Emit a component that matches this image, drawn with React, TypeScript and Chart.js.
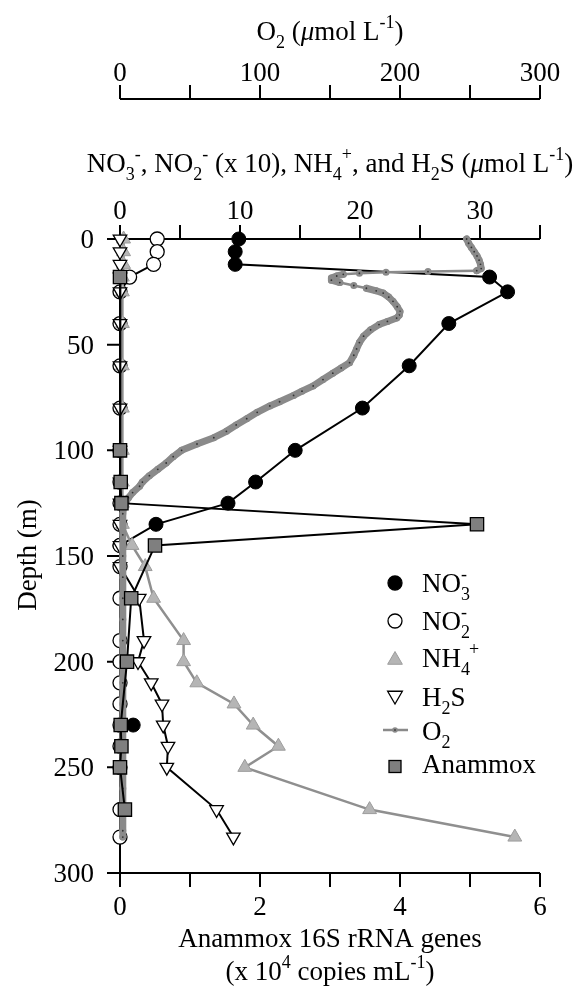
import React, { useEffect, useRef } from 'react';
import { Chart, registerables } from 'chart.js';

Chart.register(...registerables);

// ---- Data -------------------------------------------------------------
// Discrete sampling depths (m) for the nutrient / sulfide profiles
const sampleDepths = [0, 6, 12, 18, 25, 40, 60, 80, 100, 115, 125, 135, 145, 155, 170, 190, 200, 210, 220, 230, 240, 250, 270, 283];
// NO3- (umol/L); null = not determined
const nitrate = [9.9, 9.6, 9.6, 30.8, 32.3, 27.4, 24.1, 20.2, 14.6, 11.3, 9.0, 3.0, 0, null, null, null, null, null, null, 1.1, null, null, null, null];
// NO2- (umol/L x 10)
const nitrite = [3.1, 3.1, 2.8, 0.8, 0, 0, 0, 0, 0, 0, 0, 0, 0, 0, 0, 0, 0, 0, 0, 0, 0, 0, 0, 0];
// NH4+ (umol/L)
const ammonium = [0.3, 0.3, 0.3, 0.2, 0.2, 0.2, 0.2, 0.2, 0.2, 0.2, 0.2, 0.2, 1.0, 2.1, 2.8, 5.3, 5.3, 6.4, 9.5, 11.1, 13.2, 10.4, 20.8, 32.9];
// H2S (umol/L)
const sulfide = [0, 0, 0, 0, 0, 0, 0, 0, 0, 0, 0, 0, 0, 0, 1.6, 2.0, 1.5, 2.6, 3.5, 3.6, 4.0, 3.9, 8.05, 9.45];

// Anammox 16S rRNA gene abundance (x 10^4 copies/mL)
const anammoxDepths = [18, 100, 115, 125, 135, 145, 170, 200, 230, 240, 250, 270];
const anammoxCopies = [0, 0, 0.01, 0.02, 5.1, 0.5, 0.16, 0.1, 0.01, 0.02, 0, 0.07];

// CTD oxygen profile (umol/L)
const oxygenDepths = [
  0, 2, 4, 6, 8, 10, 12, 14, 15, 15.4, 15.7, 16.2, 16.7, 17.5, 18.5, 19.5, 20.6, 22, 23.3, 24.5,
  25.6, 27.5, 29.5, 32, 34.3, 36, 37.4, 39, 40.5, 43, 46, 49, 52, 55, 58.5, 61, 63.5, 66.5, 69.5, 72,
  74, 77, 79, 82, 85, 88, 91, 94, 97, 100, 103, 106, 109, 112, 115, 117, 120, 122.5, 124, 125,
  130, 140, 150, 160, 170, 180, 190, 200, 210, 220, 230, 240, 250, 260, 270, 280, 283,
];
const oxygen = [
  247.6, 249, 251, 253, 255, 256.5, 257.5, 258, 254.8, 220, 190, 171, 159.5, 154.8, 151, 151, 157, 167, 176, 183,
  188, 192, 195, 198, 200, 199.5, 197.6, 191, 185, 179, 174, 171, 169, 167, 164, 158, 152, 145, 138, 130,
  124, 114, 107, 98, 90.5, 83, 76, 67, 55, 44, 38, 33, 27, 21, 16, 14, 9, 6, 4.5, 3,
  2, 2, 2, 2, 2, 2, 2, 2, 2, 2, 2, 2, 2, 2, 2, 2, 2,
];

// Axis ticks
const depthTicks = [0, 50, 100, 150, 200, 250, 300];
const oxygenTicks = [0, 100, 200, 300];
const nitrogenTicks = [0, 10, 20, 30];
const anammoxTicks = [0, 2, 4, 6];

// ---- Text helpers -----------------------------------------------------
const FONT = '"Liberation Serif", "Times New Roman", serif';
const BASE = 27;
const SMALL = 18;
const SUB_DY = 8;
const SUP_DY = -12;

// t: normal run; sub/sup: small run below/above (stacked when both given);
// supDx shifts a stacked superscript to the right
type Piece = { t?: string; sub?: string; sup?: string; it?: boolean; supDx?: number };

function pieceWidth(ctx: CanvasRenderingContext2D, p: Piece) {
  if (p.t !== undefined) {
    ctx.font = `${p.it ? 'italic ' : ''}${BASE}px ${FONT}`;
    return ctx.measureText(p.t).width;
  }
  ctx.font = `${SMALL}px ${FONT}`;
  const a = p.sub ? ctx.measureText(p.sub).width : 0;
  const b = p.sup ? ctx.measureText(p.sup).width + (p.supDx || 0) : 0;
  return Math.max(a, b);
}

function drawRich(ctx: CanvasRenderingContext2D, pieces: Piece[], x: number, y: number, align: 'left' | 'center' | 'right') {
  const widths = pieces.map((p) => pieceWidth(ctx, p));
  const total = widths.reduce((s, w) => s + w, 0);
  let cx = align === 'left' ? x : align === 'center' ? x - total / 2 : x - total;
  ctx.textAlign = 'left';
  ctx.textBaseline = 'alphabetic';
  ctx.fillStyle = '#000';
  pieces.forEach((p, i) => {
    if (p.t !== undefined) {
      ctx.font = `${p.it ? 'italic ' : ''}${BASE}px ${FONT}`;
      ctx.fillText(p.t, cx, y);
    } else {
      ctx.font = `${SMALL}px ${FONT}`;
      if (p.sub) ctx.fillText(p.sub, cx, y + SUB_DY);
      if (p.sup) ctx.fillText(p.sup, cx + (p.supDx || 0), y + SUP_DY);
    }
    cx += widths[i];
  });
}

const oxygenTitle: Piece[] = [{ t: 'O' }, { sub: '2' }, { t: ' (' }, { t: 'μ', it: true }, { t: 'mol L' }, { sup: '-1' }, { t: ')' }];
const nitrogenTitle: Piece[] = [
  { t: 'NO' }, { sub: '3' }, { sup: '-' }, { t: ', NO' }, { sub: '2' }, { sup: '-' }, { t: ' (x 10), NH' }, { sub: '4' }, { sup: '+' },
  { t: ', and H' }, { sub: '2' }, { t: 'S (' }, { t: 'μ', it: true }, { t: 'mol L' }, { sup: '-1' }, { t: ')' },
];
const bottomTitle1: Piece[] = [{ t: 'Anammox 16S rRNA genes' }];
const bottomTitle2: Piece[] = [{ t: '(x 10' }, { sup: '4' }, { t: ' copies mL' }, { sup: '-1' }, { t: ')' }];

const legendItems: { label: Piece[]; marker: string }[] = [
  { label: [{ t: 'NO' }, { sub: '3', sup: '-' }], marker: 'no3' },
  { label: [{ t: 'NO' }, { sub: '2', sup: '-' }], marker: 'no2' },
  { label: [{ t: 'NH' }, { sub: '4', sup: '+', supDx: 8 }], marker: 'nh4' },
  { label: [{ t: 'H' }, { sub: '2' }, { t: 'S' }], marker: 'h2s' },
  { label: [{ t: 'O' }, { sub: '2' }], marker: 'o2' },
  { label: [{ t: 'Anammox' }], marker: 'amx' },
];
const legendMarkerY = [583, 621, 659, 696.5, 730, 766.5];
const legendTextY = [592, 630, 667, 705.5, 740, 773];

const GRAY_O2 = '#8a8a8a';
const GRAY_NH4_FILL = '#b5b5b5';
const GRAY_NH4_LINE = '#8f8f8f';
const GRAY_AMX = '#7f7f7f';

function triangle(ctx: CanvasRenderingContext2D, x: number, y: number, r: number, down: boolean) {
  const s = down ? -1 : 1;
  ctx.beginPath();
  ctx.moveTo(x, y - s * r);
  ctx.lineTo(x + r * Math.sin((2 * Math.PI) / 3), y + s * r * 0.5);
  ctx.lineTo(x - r * Math.sin((2 * Math.PI) / 3), y + s * r * 0.5);
  ctx.closePath();
}

const axesPlugin = {
  id: 'profileAxes',
  beforeDatasetsDraw(chart: any) {
    const ctx: CanvasRenderingContext2D = chart.ctx;
    const { y, xN, xO, xA } = chart.scales;
    const area = chart.chartArea;
    ctx.save();
    ctx.strokeStyle = '#000';
    ctx.lineWidth = 2;
    ctx.lineCap = 'butt';
    ctx.beginPath();
    // depth axis
    ctx.moveTo(area.left, area.top);
    ctx.lineTo(area.left, area.bottom);
    for (let d = 0; d <= 300; d += 50) {
      const py = y.getPixelForValue(d);
      ctx.moveTo(area.left - 13, py);
      ctx.lineTo(area.left, py);
    }
    // nutrient axis along depth 0
    ctx.moveTo(area.left, area.top);
    ctx.lineTo(area.right, area.top);
    for (let v = 0; v <= 35; v += 5) {
      const px = xN.getPixelForValue(v);
      ctx.moveTo(px, area.top);
      ctx.lineTo(px, area.top - 14);
    }
    // anammox axis at the bottom
    ctx.moveTo(area.left, area.bottom);
    ctx.lineTo(area.right, area.bottom);
    for (let v = 0; v <= 6; v += 1) {
      const px = xA.getPixelForValue(v);
      ctx.moveTo(px, area.bottom);
      ctx.lineTo(px, area.bottom + 14);
    }
    // oxygen axis above
    const oy = 99;
    ctx.moveTo(area.left, oy);
    ctx.lineTo(area.right, oy);
    for (let v = 0; v <= 300; v += 50) {
      const px = xO.getPixelForValue(v);
      ctx.moveTo(px, oy);
      ctx.lineTo(px, oy - 14);
    }
    ctx.stroke();
    ctx.restore();
  },
  afterDraw(chart: any) {
    const ctx: CanvasRenderingContext2D = chart.ctx;
    const { y, xN, xO, xA } = chart.scales;
    const area = chart.chartArea;
    const cx = (area.left + area.right) / 2;
    ctx.save();
    // titles
    drawRich(ctx, oxygenTitle, cx, 40, 'center');
    drawRich(ctx, nitrogenTitle, cx, 172, 'center');
    drawRich(ctx, bottomTitle1, cx, 947, 'center');
    drawRich(ctx, bottomTitle2, cx, 980, 'center');
    // tick labels
    ctx.font = `${BASE}px ${FONT}`;
    ctx.fillStyle = '#000';
    ctx.textBaseline = 'alphabetic';
    ctx.textAlign = 'center';
    oxygenTicks.forEach((v) => ctx.fillText(String(v), xO.getPixelForValue(v), 81));
    nitrogenTicks.forEach((v) => ctx.fillText(String(v), xN.getPixelForValue(v), 219));
    anammoxTicks.forEach((v) => ctx.fillText(String(v), xA.getPixelForValue(v), 915));
    ctx.textAlign = 'right';
    depthTicks.forEach((d) => ctx.fillText(String(d), 94, y.getPixelForValue(d) + 9));
    // depth title
    ctx.save();
    ctx.translate(36, 555);
    ctx.rotate(-Math.PI / 2);
    ctx.textAlign = 'center';
    ctx.fillText('Depth (m)', 0, 0);
    ctx.restore();

    // legend
    const mx = 395;
    legendItems.forEach((item, i) => {
      const my = legendMarkerY[i];
      ctx.lineWidth = 1.3;
      ctx.strokeStyle = '#000';
      if (item.marker === 'no3' || item.marker === 'no2') {
        ctx.beginPath();
        ctx.arc(mx, my, 7, 0, Math.PI * 2);
        ctx.fillStyle = item.marker === 'no3' ? '#000' : '#fff';
        ctx.fill();
        ctx.stroke();
      } else if (item.marker === 'nh4') {
        triangle(ctx, mx, my + 1, 8.5, false);
        ctx.fillStyle = GRAY_NH4_FILL;
        ctx.strokeStyle = '#9c9c9c';
        ctx.lineWidth = 1;
        ctx.fill();
        ctx.stroke();
      } else if (item.marker === 'h2s') {
        triangle(ctx, mx, my - 1, 8.5, true);
        ctx.fillStyle = '#fff';
        ctx.fill();
        ctx.stroke();
      } else if (item.marker === 'o2') {
        ctx.strokeStyle = GRAY_O2;
        ctx.lineWidth = 2.5;
        ctx.beginPath();
        ctx.moveTo(mx - 12, my);
        ctx.lineTo(mx + 13, my);
        ctx.stroke();
        ctx.beginPath();
        ctx.arc(mx, my, 2.8, 0, Math.PI * 2);
        ctx.fillStyle = GRAY_O2;
        ctx.fill();
        ctx.beginPath();
        ctx.arc(mx, my, 1, 0, Math.PI * 2);
        ctx.fillStyle = '#444';
        ctx.fill();
      } else {
        ctx.fillStyle = GRAY_AMX;
        ctx.fillRect(mx - 6, my - 6, 12, 12);
        ctx.strokeRect(mx - 6, my - 6, 12, 12);
      }
      drawRich(ctx, item.label, 422, legendTextY[i], 'left');
    });
    ctx.restore();
  },
};

function pairs(xs: (number | null)[], ys: number[]) {
  return ys.map((d, i) => ({ x: xs[i], y: d }));
}

export default function App() {
  const ref = useRef<HTMLCanvasElement>(null);

  useEffect(() => {
    if (!ref.current) return;
    const chart = new Chart(ref.current, {
      type: 'scatter',
      data: {
        datasets: [
          {
            label: 'Anammox',
            data: pairs(anammoxCopies, anammoxDepths),
            xAxisID: 'xA',
            yAxisID: 'y',
            order: 0,
            showLine: true,
            borderColor: '#000',
            borderWidth: 2,
            pointStyle: 'rect',
            pointRadius: 9.4,
            pointBackgroundColor: GRAY_AMX,
            pointBorderColor: '#000',
            pointBorderWidth: 1.3,
            clip: false,
          } as any,
          {
            label: 'O2',
            data: pairs(oxygen, oxygenDepths),
            xAxisID: 'xO',
            yAxisID: 'y',
            order: 1,
            showLine: true,
            borderColor: GRAY_O2,
            borderWidth: 7,
            borderJoinStyle: 'round',
            borderCapStyle: 'round',
            segment: {
              // sparse, near-horizontal stretches are drawn as a thin line
              borderWidth: (c: any) => {
                const dx = Math.abs(c.p1.x - c.p0.x);
                const dy = Math.abs(c.p1.y - c.p0.y);
                return dx > 12 && dx > 4 * dy ? 2.5 : 7;
              },
            },
            pointRadius: 2.2,
            pointBackgroundColor: '#333',
            pointBorderColor: GRAY_O2,
            pointBorderWidth: 2.6,
            clip: false,
          } as any,
          {
            label: 'H2S',
            data: pairs(sulfide, sampleDepths),
            xAxisID: 'xN',
            yAxisID: 'y',
            order: 2,
            showLine: true,
            borderColor: '#000',
            borderWidth: 2,
            pointStyle: 'triangle',
            pointRotation: 180,
            pointRadius: 7.8,
            pointBackgroundColor: '#fff',
            pointBorderColor: '#000',
            pointBorderWidth: 1.3,
            clip: false,
          } as any,
          {
            label: 'NH4+',
            data: pairs(ammonium, sampleDepths),
            xAxisID: 'xN',
            yAxisID: 'y',
            order: 3,
            showLine: true,
            borderColor: GRAY_NH4_LINE,
            borderWidth: 2.5,
            pointStyle: 'triangle',
            pointRadius: 8,
            pointBackgroundColor: GRAY_NH4_FILL,
            pointBorderColor: '#9c9c9c',
            pointBorderWidth: 1,
            clip: false,
          } as any,
          {
            label: 'NO2-',
            data: pairs(nitrite, sampleDepths),
            xAxisID: 'xN',
            yAxisID: 'y',
            order: 4,
            showLine: true,
            borderColor: '#000',
            borderWidth: 2,
            pointRadius: 7,
            pointBackgroundColor: '#fff',
            pointBorderColor: '#000',
            pointBorderWidth: 1.3,
            clip: false,
          } as any,
          {
            label: 'NO3-',
            data: pairs(nitrate, sampleDepths),
            xAxisID: 'xN',
            yAxisID: 'y',
            order: 5,
            showLine: true,
            spanGaps: false,
            borderColor: '#000',
            borderWidth: 2,
            pointRadius: 7,
            pointBackgroundColor: '#000',
            pointBorderColor: '#000',
            pointBorderWidth: 1,
            clip: false,
          } as any,
        ],
      },
      options: {
        responsive: false,
        maintainAspectRatio: false,
        animation: false,
        events: [],
        layout: { padding: { left: 120, right: 36, top: 239, bottom: 116 } },
        plugins: {
          legend: { display: false },
          tooltip: { enabled: false },
          title: { display: false },
        },
        scales: {
          y: { type: 'linear', min: 0, max: 300, reverse: true, display: false },
          xN: { type: 'linear', axis: 'x', position: 'top', min: 0, max: 35, display: false },
          xO: { type: 'linear', axis: 'x', position: 'top', min: 0, max: 300, display: false },
          xA: { type: 'linear', axis: 'x', position: 'bottom', min: 0, max: 6, display: false },
        } as any,
      },
      plugins: [axesPlugin],
    });
    return () => chart.destroy();
  }, []);

  return (
    <div style={{ position: 'absolute', left: 0, top: 0, width: 576, height: 989, background: '#fff' }}>
      <canvas ref={ref} width={576} height={989} style={{ display: 'block', width: 576, height: 989 }} />
    </div>
  );
}
